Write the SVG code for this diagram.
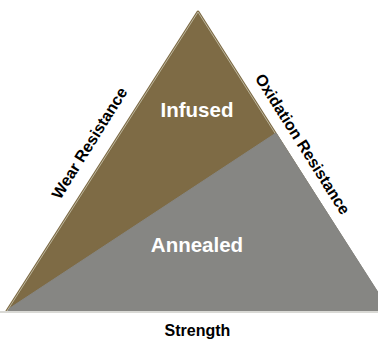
<svg xmlns="http://www.w3.org/2000/svg" width="378" height="340" viewBox="0 0 378 340">
  <style>
    .lbl { font-family: "Liberation Sans", Arial, sans-serif; font-weight: bold; }
    .in { fill: #ffffff; font-size: 20.5px; text-anchor: middle; }
    .out { fill: #000000; font-size: 16px; text-anchor: middle; }
  </style>
  <rect width="378" height="340" fill="#ffffff"/>
  <g id="triangle">
    <polygon points="198,12 7,311 388,311" fill="#7e6b45" stroke="#7e6b45" stroke-width="3" stroke-linejoin="round"/>
    <polygon points="198,12 7,311 388,311" fill="none" stroke="#e4e6d6" stroke-width="1" stroke-linejoin="round" opacity="0.6"/>
  </g>
  <g id="annealed-region">
    <polygon points="276,133 390,311 8,311 10,308" fill="#868683" stroke="#868683" stroke-width="1" stroke-linejoin="round"/>
  </g>
  <rect x="0" y="311" width="378" height="2" fill="#d9d9d5"/>
  <g id="infused">
    <text class="lbl in" x="197" y="117">Infused</text>
  </g>
  <g id="annealed">
    <text class="lbl in" x="197" y="252">Annealed</text>
  </g>
  <g id="strength">
    <text class="lbl out" x="197.5" y="336">Strength</text>
  </g>
  <g id="wear">
    <text class="lbl out" transform="translate(94,146) rotate(-58)" x="0" y="0">Wear Resistance</text>
  </g>
  <g id="oxidation">
    <text class="lbl out" transform="translate(298,147) rotate(57.7)" x="0" y="0">Oxidation Resistance</text>
  </g>
</svg>
